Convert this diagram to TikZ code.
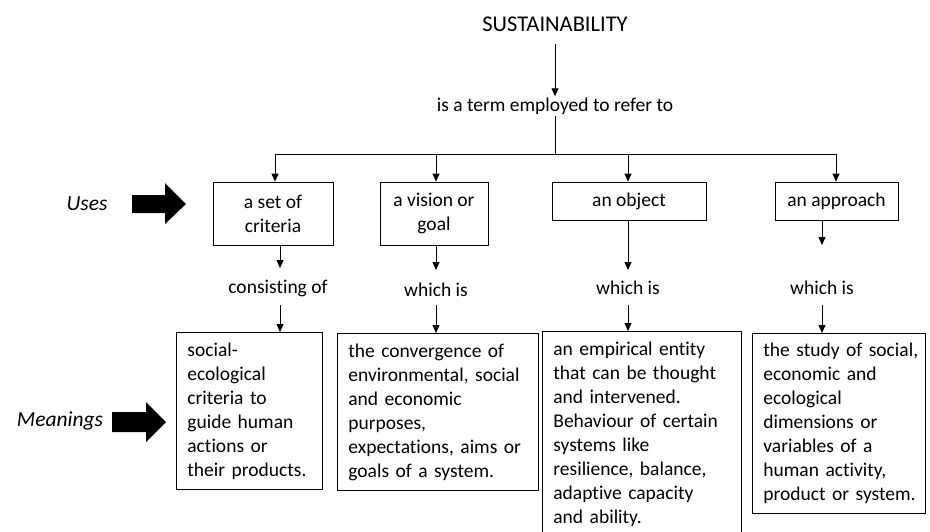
\documentclass[tikz,border=0pt]{standalone}
\usepackage{fontspec}
\setmainfont[Ligatures=NoCommon]{Carlito}
\usetikzlibrary{arrows.meta}
\begin{document}
\begin{tikzpicture}[x=1pt,y=-1pt,
  font=\fontsize{19.5}{24}\selectfont,
  line width=0.8pt,
  arr/.style={-{Triangle[length=8pt,width=7pt]}},
  usebox/.style={draw, align=center, inner sep=0pt},
  meanbox/.style={draw, align=left, anchor=north west, inner xsep=11pt, inner ysep=7pt,
    execute at begin node={\hyphenpenalty=10000\hbadness=10000\hfuzz=30pt}},
  lbl/.style={inner sep=1pt},
  side/.style={inner sep=1pt, font=\fontsize{21.5}{26}\selectfont\itshape},
  bigarrow/.style={fill=black}
]
\useasboundingbox (0,0) rectangle (930,531);
\clip (0,0) rectangle (930,531);
% title
\node[lbl, font=\fontsize{22.5}{26}\selectfont] (sus) at (555,24) {SUSTAINABILITY};
\node[lbl] (refer) at (555,106) {is a term employed to refer to};
\draw[arr] (555,44) -- (refer.north);
\coordinate (hub) at (555,154);
\draw (refer.south) -- (hub);
\draw (275,154) -- (836,154);
% use boxes
\node[usebox, minimum width=120pt, minimum height=63pt] (u1) at (273,213.5) {a set of\\criteria};
\node[usebox, minimum width=108pt, minimum height=63pt] (u2) at (434,213.5) {a vision or\\goal};
\node[usebox, minimum width=154pt, minimum height=38pt] (u3) at (629,201) {an object};
\node[usebox, minimum width=123pt, minimum height=38pt] (u4) at (836.5,201) {an approach};
\coordinate (d1) at (275,154);
\coordinate (d2) at (436,154);
\coordinate (d3) at (628,154);
\coordinate (d4) at (836,154);
\draw[arr] (d1) -- (d1 |- u1.north);
\draw[arr] (d2) -- (d2 |- u2.north);
\draw[arr] (d3) -- (d3 |- u3.north);
\draw[arr] (d4) -- (d4 |- u4.north);
% connecting phrases
\node[lbl] (c1) at (278,288) {consisting of};
\node[lbl] (c2) at (436,290) {which is};
\node[lbl] (c3) at (628,288) {which is};
\node[lbl] (c4) at (822,288) {which is};
\coordinate (a1) at (280,0);
\coordinate (a2) at (436,0);
\coordinate (a3) at (628,0);
\coordinate (a4) at (822,0);
\coordinate (b1) at (280,305);
\coordinate (b2) at (436,305);
\coordinate (b3) at (628,305);
\coordinate (b4) at (822,305);
\draw[arr] (a1 |- u1.south) -- (280,268);
\draw[arr] (a2 |- u2.south) -- (436,270);
\draw[arr] (a3 |- u3.south) -- (628,270);
\draw[arr] (a4 |- u4.south) -- (822,245);
% meaning boxes
\node[meanbox, text width=124pt, minimum height=157pt] (m1) at (176,332) {\mbox{social-}\\ecological\\criteria to\\guide human\\actions or\\\mbox{their products.}};
\node[meanbox, text width=179pt, minimum height=157pt] (m2) at (337,333) {the convergence of\\\mbox{environmental, social}\\and economic\\purposes,\\\mbox{expectations, aims or}\\goals of a system.};
\node[meanbox, text width=177pt, minimum height=205pt] (m3) at (542,331) {an empirical entity\\that can be thought\\and intervened.\\\mbox{Behaviour of certain}\\systems like\\\mbox{resilience, balance,}\\adaptive capacity\\and ability.};
\node[meanbox, text width=151pt, minimum height=180pt] (m4) at (752,333) {\mbox{the study of social,}\\economic and\\ecological\\dimensions or\\variables of a\\human activity,\\\mbox{product or system.}};
\draw[arr] (b1) -- (b1 |- m1.north);
\draw[arr] (b2) -- (b2 |- m2.north);
\draw[arr] (b3) -- (b3 |- m3.north);
\draw[arr] (b4) -- (b4 |- m4.north);
% side labels
\node[side] (uses) at (87,204) {Uses};
\node[side] (mean) at (60,421) {Meanings};
\fill[bigarrow] (132,195) -- (165,195) -- (165,183) -- (186,204) -- (165,224) -- (165,213) -- (132,213) -- cycle;
\fill[bigarrow] (112,412) -- (146,412) -- (146,402) -- (166,422) -- (146,442) -- (146,432) -- (112,432) -- cycle;
\end{tikzpicture}
\end{document}
